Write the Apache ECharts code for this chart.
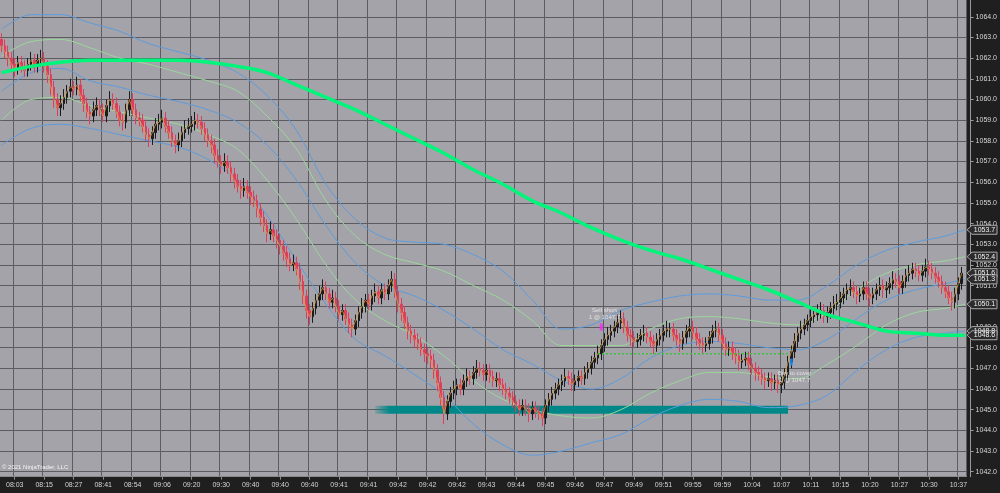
<!DOCTYPE html>
<html><head><meta charset="utf-8">
<script src="https://cdn.jsdelivr.net/npm/echarts@6/dist/echarts.min.js"></script>
<style>html,body{margin:0;padding:0;background:#1f1f1f;overflow:hidden}#c{width:1000px;height:493px}</style>
</head><body><div id="c"></div>
<script>
const timeLabels = ["08:03","08:15","08:27","08:41","08:54","09:06","09:20","09:30","09:40","09:40","09:40","09:41","09:41","09:42","09:42","09:42","09:43","09:44","09:45","09:46","09:47","09:49","09:51","09:55","09:59","10:04","10:07","10:11","10:15","10:20","10:27","10:30","10:37"];

const opens = [
1062.9,1062.6,1062.3,1062.0,1061.7,1061.5,1061.8,1061.6,1061.4,
1061.7,1061.9,1061.6,1061.9,1062.0,1061.6,1061.2,1060.6,1060.0,
1059.6,1059.8,1060.1,1060.4,1060.6,1060.5,1060.7,1060.2,1059.8,
1059.4,1059.2,1059.5,1059.7,1059.5,1059.2,1059.7,1060.0,1059.8,
1059.4,1059.0,1058.9,1059.5,1060.0,1059.5,1059.1,1059.0,1058.7,
1058.3,1058.1,1058.4,1058.8,1058.9,1059.1,1058.7,1058.4,1058.0,
1057.8,1058.0,1058.4,1058.6,1058.7,1058.8,1059.0,1058.9,1058.6,
1058.3,1058.0,1057.8,1057.3,1057.0,1056.8,1057.0,1056.7,1056.4,
1056.1,1055.8,1055.6,1055.8,1055.5,1055.3,1055.1,1054.7,1054.3,
1053.9,1053.5,1053.7,1053.4,1053.2,1052.9,1052.6,1052.3,1052.0,
1052.1,1051.8,1051.2,1050.5,1049.8,1049.5,1049.9,1050.3,1050.6,
1050.9,1050.6,1050.2,1050.4,1050.0,1049.6,1049.8,1049.4,1049.1,
1048.9,1049.3,1049.7,1050.0,1050.3,1050.1,1050.5,1050.7,1050.4,
1050.8,1050.6,1051.0,1051.3,1050.7,1050.1,1049.7,1049.2,1048.8,
1048.6,1048.4,1048.2,1047.9,1047.7,1047.6,1047.4,1046.9,1046.3,
1045.6,1044.8,1045.4,1045.8,1046.0,1046.2,1046.0,1046.4,1046.6,
1046.5,1046.8,1047.0,1046.9,1046.7,1046.9,1046.6,1046.4,1046.5,
1046.2,1046.0,1045.8,1045.6,1045.4,1045.2,1045.0,1045.2,1045.0,
1044.8,1045.1,1044.9,1044.8,1044.6,1045.2,1045.5,1045.8,1046.0,
1046.2,1046.4,1046.6,1046.5,1046.2,1046.4,1046.6,1046.5,1046.8,
1047.0,1047.3,1047.5,1047.7,1048.1,1048.4,1048.6,1048.8,1049.0,
1049.2,1049.4,1049.0,1048.6,1048.5,1048.3,1048.4,1048.6,1048.7,
1048.5,1048.3,1048.1,1048.4,1048.6,1048.8,1048.9,1048.9,1048.6,
1048.4,1048.2,1048.5,1048.8,1049.0,1048.7,1048.4,1048.2,1048.1,
1048.2,1048.5,1048.8,1048.9,1048.6,1048.2,1047.9,1048.0,1047.7,
1047.6,1047.3,1047.4,1047.5,1047.2,1047.0,1046.8,1046.7,1046.5,
1046.4,1046.5,1046.3,1046.4,1046.2,1046.3,1046.7,1047.3,1047.8,
1048.3,1048.7,1048.9,1049.1,1049.3,1049.5,1049.6,1049.7,1049.8,
1049.5,1049.7,1049.9,1050.1,1050.2,1050.4,1050.6,1050.8,1050.9,
1050.7,1050.5,1050.6,1050.9,1050.6,1050.4,1050.6,1050.8,1051.0,
1050.8,1050.9,1051.1,1051.3,1051.2,1050.9,1051.2,1051.5,1051.6,
1051.8,1051.7,1051.5,1051.7,1051.9,1051.8,1051.6,1051.4,1051.2,
1050.9,1050.7,1050.4,1050.2,1050.6,1051.1
];
const closes = [
1062.6,1062.3,1062.0,1061.7,1061.5,1061.8,1061.6,1061.4,1061.7,
1061.9,1061.6,1061.9,1062.0,1061.6,1061.2,1060.6,1060.0,1059.6,
1059.8,1060.1,1060.4,1060.6,1060.5,1060.7,1060.2,1059.8,1059.4,
1059.2,1059.5,1059.7,1059.5,1059.2,1059.7,1060.0,1059.8,1059.4,
1059.0,1058.9,1059.5,1060.0,1059.5,1059.1,1059.0,1058.7,1058.3,
1058.1,1058.4,1058.8,1058.9,1059.1,1058.7,1058.4,1058.0,1057.8,
1058.0,1058.4,1058.6,1058.7,1058.8,1059.0,1058.9,1058.6,1058.3,
1058.0,1057.8,1057.3,1057.0,1056.8,1057.0,1056.7,1056.4,1056.1,
1055.8,1055.6,1055.8,1055.5,1055.3,1055.1,1054.7,1054.3,1053.9,
1053.5,1053.7,1053.4,1053.2,1052.9,1052.6,1052.3,1052.0,1052.1,
1051.8,1051.2,1050.5,1049.8,1049.5,1049.9,1050.3,1050.6,1050.9,
1050.6,1050.2,1050.4,1050.0,1049.6,1049.8,1049.4,1049.1,1048.9,
1049.3,1049.7,1050.0,1050.3,1050.1,1050.5,1050.7,1050.4,1050.8,
1050.6,1051.0,1051.3,1050.7,1050.1,1049.7,1049.2,1048.8,1048.6,
1048.4,1048.2,1047.9,1047.7,1047.6,1047.4,1046.9,1046.3,1045.6,
1044.8,1045.4,1045.8,1046.0,1046.2,1046.0,1046.4,1046.6,1046.5,
1046.8,1047.0,1046.9,1046.7,1046.9,1046.6,1046.4,1046.5,1046.2,
1046.0,1045.8,1045.6,1045.4,1045.2,1045.0,1045.2,1045.0,1044.8,
1045.1,1044.9,1044.8,1044.6,1045.2,1045.5,1045.8,1046.0,1046.2,
1046.4,1046.6,1046.5,1046.2,1046.4,1046.6,1046.5,1046.8,1047.0,
1047.3,1047.5,1047.7,1048.1,1048.4,1048.6,1048.8,1049.0,1049.2,
1049.4,1049.0,1048.6,1048.5,1048.3,1048.4,1048.6,1048.7,1048.5,
1048.3,1048.1,1048.4,1048.6,1048.8,1048.9,1048.9,1048.6,1048.4,
1048.2,1048.5,1048.8,1049.0,1048.7,1048.4,1048.2,1048.1,1048.2,
1048.5,1048.8,1048.9,1048.6,1048.2,1047.9,1048.0,1047.7,1047.6,
1047.3,1047.4,1047.5,1047.2,1047.0,1046.8,1046.7,1046.5,1046.4,
1046.5,1046.3,1046.4,1046.2,1046.3,1046.7,1047.3,1047.8,1048.3,
1048.7,1048.9,1049.1,1049.3,1049.5,1049.6,1049.7,1049.8,1049.5,
1049.7,1049.9,1050.1,1050.2,1050.4,1050.6,1050.8,1050.9,1050.7,
1050.5,1050.6,1050.9,1050.6,1050.4,1050.6,1050.8,1051.0,1050.8,
1050.9,1051.1,1051.3,1051.2,1050.9,1051.2,1051.5,1051.6,1051.8,
1051.7,1051.5,1051.7,1051.9,1051.8,1051.6,1051.4,1051.2,1050.9,
1050.7,1050.4,1050.2,1050.6,1051.1,1051.6
];
const highs = [
1063.2,1062.9,1062.6,1062.3,1062.0,1062.1,1062.1,1061.9,1062.0,
1062.3,1062.2,1062.2,1062.4,1062.3,1061.9,1061.5,1060.9,1060.3,
1060.2,1060.5,1060.7,1061.0,1060.9,1061.1,1061.0,1060.5,1060.1,
1059.7,1059.9,1060.1,1060.0,1059.8,1060.0,1060.4,1060.3,1060.1,
1059.7,1059.3,1059.8,1060.4,1060.3,1059.8,1059.4,1059.3,1059.0,
1058.6,1058.7,1059.1,1059.3,1059.5,1059.4,1059.0,1058.7,1058.3,
1058.4,1058.7,1059.0,1059.1,1059.2,1059.4,1059.3,1059.2,1058.9,
1058.6,1058.3,1058.1,1057.6,1057.3,1057.4,1057.3,1057.0,1056.7,
1056.4,1056.1,1056.2,1056.1,1055.8,1055.6,1055.4,1055.0,1054.6,
1054.2,1054.1,1054.0,1053.7,1053.5,1053.2,1052.9,1052.6,1052.5,
1052.4,1052.1,1051.5,1050.8,1050.1,1050.2,1050.6,1051.0,1051.3,
1051.2,1050.9,1050.8,1050.7,1050.3,1050.1,1050.1,1049.7,1049.4,
1049.6,1050.0,1050.4,1050.6,1050.6,1050.8,1051.1,1051.0,1051.1,
1051.1,1051.3,1051.7,1051.6,1051.0,1050.4,1050.0,1049.5,1049.1,
1048.9,1048.7,1048.5,1048.2,1048.0,1047.9,1047.7,1047.2,1046.6,
1045.9,1045.7,1046.1,1046.4,1046.5,1046.5,1046.7,1047.0,1046.9,
1047.1,1047.4,1047.3,1047.2,1047.2,1047.2,1046.9,1046.8,1046.8,
1046.5,1046.3,1046.1,1045.9,1045.7,1045.5,1045.5,1045.5,1045.3,
1045.4,1045.4,1045.2,1045.1,1045.5,1045.8,1046.1,1046.3,1046.5,
1046.7,1047.0,1046.9,1046.8,1046.7,1046.9,1046.9,1047.1,1047.3,
1047.6,1047.8,1048.1,1048.4,1048.7,1049.0,1049.1,1049.3,1049.6,
1049.8,1049.7,1049.3,1048.9,1048.8,1048.7,1048.9,1049.1,1049.0,
1048.8,1048.6,1048.7,1048.9,1049.1,1049.3,1049.2,1049.2,1048.9,
1048.7,1048.8,1049.1,1049.4,1049.3,1049.0,1048.7,1048.5,1048.5,
1048.8,1049.1,1049.3,1049.2,1048.9,1048.5,1048.3,1048.3,1048.0,
1047.9,1047.7,1047.8,1047.8,1047.5,1047.3,1047.1,1047.0,1046.8,
1046.8,1046.8,1046.7,1046.7,1046.6,1047.0,1047.6,1048.1,1048.7,
1049.0,1049.3,1049.4,1049.6,1049.9,1049.9,1050.1,1050.2,1050.1,
1050.0,1050.2,1050.5,1050.6,1050.7,1050.9,1051.1,1051.3,1051.2,
1051.0,1050.9,1051.2,1051.2,1050.9,1050.9,1051.1,1051.4,1051.3,
1051.2,1051.4,1051.7,1051.6,1051.5,1051.5,1051.8,1052.0,1052.1,
1052.1,1052.0,1052.0,1052.3,1052.2,1052.1,1051.9,1051.7,1051.5,
1051.2,1051.0,1050.7,1050.9,1051.4,1051.9
];
const lows = [
1062.3,1062.0,1061.6,1061.4,1061.1,1061.2,1061.3,1061.1,1061.1,
1061.4,1061.3,1061.3,1061.6,1061.3,1060.8,1060.2,1059.6,1059.2,
1059.2,1059.5,1059.8,1060.1,1060.2,1060.2,1059.9,1059.4,1059.1,
1058.8,1058.9,1059.2,1059.2,1058.9,1058.9,1059.4,1059.5,1059.1,
1058.7,1058.5,1058.6,1059.2,1059.2,1058.8,1058.7,1058.4,1058.0,
1057.7,1057.8,1058.1,1058.5,1058.6,1058.4,1058.1,1057.7,1057.4,
1057.5,1057.7,1058.1,1058.3,1058.4,1058.5,1058.6,1058.3,1058.0,
1057.7,1057.4,1056.9,1056.7,1056.4,1056.5,1056.4,1056.0,1055.7,
1055.5,1055.2,1055.3,1055.2,1054.9,1054.8,1054.3,1053.9,1053.6,
1053.1,1053.2,1053.1,1052.8,1052.5,1052.2,1051.9,1051.7,1051.7,
1051.5,1050.8,1050.1,1049.4,1049.1,1049.2,1049.6,1050.0,1050.3,
1050.3,1049.9,1049.9,1049.7,1049.3,1049.3,1049.1,1048.7,1048.5,
1048.6,1049.0,1049.4,1049.7,1049.8,1049.8,1050.2,1050.1,1050.1,
1050.3,1050.3,1050.7,1050.4,1049.7,1049.3,1048.9,1048.4,1048.2,
1048.0,1047.9,1047.6,1047.3,1047.2,1047.0,1046.5,1045.9,1045.2,
1044.3,1044.5,1045.1,1045.5,1045.7,1045.7,1045.7,1046.1,1046.2,
1046.2,1046.5,1046.6,1046.4,1046.4,1046.3,1046.1,1046.1,1045.9,
1045.7,1045.5,1045.3,1045.1,1044.9,1044.7,1044.7,1044.7,1044.4,
1044.5,1044.6,1044.5,1044.2,1044.3,1044.9,1045.2,1045.5,1045.7,
1045.9,1046.1,1046.2,1045.9,1045.9,1046.1,1046.2,1046.2,1046.5,
1046.7,1047.0,1047.2,1047.4,1047.8,1048.1,1048.3,1048.5,1048.7,
1048.9,1048.7,1048.3,1048.1,1048.0,1048.0,1048.1,1048.3,1048.2,
1048.0,1047.7,1047.8,1048.1,1048.3,1048.5,1048.5,1048.3,1048.1,
1047.8,1047.9,1048.2,1048.5,1048.4,1048.1,1047.9,1047.7,1047.8,
1047.9,1048.2,1048.5,1048.3,1047.9,1047.6,1047.6,1047.4,1047.2,
1046.9,1047.0,1047.1,1046.9,1046.7,1046.4,1046.4,1046.2,1046.0,
1046.1,1045.9,1046.0,1045.8,1045.8,1046.0,1046.4,1047.0,1047.5,
1048.0,1048.4,1048.6,1048.8,1049.0,1049.2,1049.3,1049.4,1049.2,
1049.2,1049.4,1049.6,1049.8,1049.9,1050.1,1050.3,1050.5,1050.4,
1050.1,1050.2,1050.3,1050.3,1050.0,1050.1,1050.3,1050.5,1050.4,
1050.4,1050.6,1050.8,1050.9,1050.6,1050.6,1050.9,1051.2,1051.3,
1051.4,1051.2,1051.2,1051.4,1051.5,1051.3,1051.1,1050.9,1050.6,
1050.4,1050.1,1049.8,1049.9,1050.3,1050.8
];

// indicator samples (bar index -> value)
const bandIdx = [0,9,18,27,36,45,54,63,72,81,90,99,108,117,126,135,144,153,162,171,180,189,198,207,216,225,234,243,252,261,270,279,288,294];
const upperOuter = [1063.4,1064.1,1064.1,1063.7,1063.3,1062.7,1062.3,1061.9,1061.3,1060.2,1058.5,1055.9,1054.2,1053.3,1053.1,1053.0,1052.5,1051.7,1050.3,1048.9,1049.1,1049.8,1050.2,1050.5,1050.6,1050.5,1050.3,1050.3,1051.0,1052.0,1052.7,1053.1,1053.4,1053.7];
const upperInner = [1062.1,1062.8,1062.9,1062.5,1062.0,1061.7,1061.3,1060.9,1060.4,1059.2,1057.6,1055.1,1053.4,1052.5,1052.1,1051.7,1051.0,1050.3,1049.3,1048.1,1048.1,1048.1,1048.9,1049.4,1049.5,1049.4,1049.2,1049.1,1049.7,1050.8,1051.6,1052.0,1052.2,1052.4];
const middleBand = [1060.4,1061.3,1061.5,1060.9,1060.6,1060.2,1059.9,1059.5,1058.9,1057.8,1056.1,1053.9,1052.1,1051.0,1050.5,1049.8,1048.9,1047.9,1047.2,1046.4,1046.0,1046.5,1047.5,1048.1,1048.3,1048.2,1048.0,1047.9,1048.4,1049.4,1050.3,1050.8,1051.1,1051.3];
const lowerInner = [1059.0,1060.0,1060.1,1059.7,1059.4,1059.1,1058.8,1058.3,1057.6,1056.1,1054.2,1052.0,1050.3,1049.3,1048.6,1047.6,1046.4,1045.5,1045.0,1044.7,1044.6,1045.0,1045.8,1046.4,1046.8,1046.8,1046.6,1046.5,1047.2,1048.1,1049.1,1049.7,1049.9,1050.1];
const lowerOuter = [1057.8,1058.6,1058.8,1058.6,1058.3,1058.0,1057.7,1057.1,1056.1,1054.4,1052.2,1050.1,1048.4,1047.6,1046.7,1045.7,1044.3,1043.3,1042.8,1043.0,1043.4,1043.8,1044.6,1045.2,1045.5,1045.4,1045.1,1045.2,1045.7,1046.9,1047.9,1048.5,1048.7,1048.8];
const slowAverage = [1061.3,1061.6,1061.8,1061.9,1061.9,1061.9,1061.9,1061.8,1061.6,1061.3,1060.7,1060.1,1059.5,1058.8,1058.1,1057.4,1056.6,1055.9,1055.1,1054.5,1053.8,1053.2,1052.7,1052.3,1051.8,1051.3,1050.8,1050.2,1049.6,1049.2,1048.8,1048.7,1048.6,1048.6];

const yTicks = [1042,1043,1044,1045,1046,1047,1048,1049,1050,1051,1052,1053,1054,1055,1056,1057,1058,1059,1060,1061,1062,1063,1064];
const priceTags = [1053.7,1052.4,1051.6,1051.3,1050.1,1048.8,1048.6];

const entryBar = 182, exitBar = 240, tradePrice = 1047.7;
const zoneStart = 114, zoneEnd = 240, zonePrice = 1045.0;
const notes = [
  {bar:184, price:1049.65, text:'Sell short\n1 @ 1047.7'},
  {bar:242, price:1046.6, text:'Buy to cover\n1 @ 1047.7'}
];
const markers = [
  {bar:183, price:1049.0, color:'#ff22ff'},
  {bar:241, price:1047.3, color:'#1e90ff'}
];

const N = 295;
const cats = Array.from({length:N}, (_, i) => String(i));
const FIRST = 4, STEP = 9;
const isLbl = (i) => i >= FIRST && (i - FIRST) % STEP === 0;

const pairs = (vals) => vals.map((v, k) => [bandIdx[k], v]);
const candleData = closes.map((c, i) => [opens[i], c, lows[i], highs[i]]);

const chart = echarts.init(document.getElementById('c'), null, {renderer:'canvas'});
const FONT = 'Liberation Sans';
const lineS = (name, vals, color, width, z) => ({
  name, type:'line', data: pairs(vals), smooth:0.35, symbol:'none', z,
  lineStyle:{color, width}, silent:true, animation:false
});

chart.setOption({
  backgroundColor:'#1f1f1f',
  animation:false,
  grid:{left:-1.5, right:33.3, top:0, bottom:16.3, show:true, backgroundColor:'#a4a3a9', borderWidth:0},
  xAxis:{
    type:'category', data:cats, boundaryGap:true,
    axisLine:{show:true, lineStyle:{color:'#8a8a8a'}},
    axisTick:{show:true, interval:isLbl, alignWithLabel:true, length:3, lineStyle:{color:'#8a8a8a'}},
    axisLabel:{interval:isLbl, formatter:(v, i) => timeLabels[(Number(v) - FIRST) / STEP] || '', color:'#d4d4d4', fontSize:7, fontFamily:FONT, margin:5},
    splitLine:{show:true, interval:isLbl, lineStyle:{color:'#5d5d61', width:1}}
  },
  yAxis:{
    type:'value', position:'right', offset:4, min:1041.76, max:1064.81,
    axisLine:{show:true, lineStyle:{color:'#9a9a9a'}},
    axisTick:{show:true, length:3, customValues:yTicks, lineStyle:{color:'#9a9a9a'}},
    axisLabel:{customValues:yTicks, formatter:(v) => Number(v).toFixed(1), color:'#d8d8d8', fontSize:7, fontFamily:FONT, margin:5},
    splitLine:{show:true, lineStyle:{color:'#5d5d61', width:1}}
  },
  series:[
    {type:'line', name:'zone', data:[[zoneStart, zonePrice],[zoneEnd, zonePrice]], symbol:'none', z:2, silent:true,
      lineStyle:{width:8, cap:'butt', color:new echarts.graphic.LinearGradient(0,0,1,0,[{offset:0,color:'rgba(0,134,134,0)'},{offset:0.045,color:'#008888'},{offset:1,color:'#008888'}])}},
    lineS('lowerOuter', lowerOuter, '#5d9bdc', 1, 3),
    lineS('upperOuter', upperOuter, '#5d9bdc', 1, 3),
    lineS('middle', middleBand, '#5d9bdc', 1, 3),
    lineS('upperInner', upperInner, '#9bd79b', 1, 3),
    lineS('lowerInner', lowerInner, '#9bd79b', 1, 3),
    {type:'candlestick', name:'bars', data:candleData, barWidth:2, z:4,
      itemStyle:{color:'#1c1c1c', color0:'#e23c5c', borderColor:'#1c1c1c', borderColor0:'#e23c5c', borderWidth:1}},
    {type:'line', name:'fast', data:closes, symbol:'none', z:5, silent:true, lineStyle:{color:'#d99a3c', width:0.8}},
    lineS('slow', slowAverage, '#00f57a', 3.5, 6),
    {type:'line', name:'position', data:[[entryBar, tradePrice],[exitBar, tradePrice]], symbol:'none', z:6, silent:true,
      lineStyle:{color:'#3cc43c', width:1.5, type:[2,2]}},
    {type:'scatter', name:'marks', z:7, silent:true,
      data: markers.map(m => ({value:[m.bar, m.price], itemStyle:{color:m.color}})),
      symbol:'rect', symbolSize:[3,7]},
    {type:'scatter', name:'notes', z:8, silent:true, symbolSize:0,
      data: notes.map(n => ({value:[n.bar, n.price], label:{show:true, formatter:n.text}})),
      label:{show:true, position:'inside', color:'#f2f2f2', fontSize:6, fontFamily:FONT, lineHeight:7, align:'center'}}
  ]
});

// price tags on the right axis
const g = [];
priceTags.forEach(v => {
  const y = chart.convertToPixel({yAxisIndex:0}, v);
  g.push({type:'polygon', z:100, shape:{points:[[967,y],[972,y-4.5],[997,y-4.5],[997,y+4.5],[972,y+4.5]]},
    style:{fill:'#2c2c2c', stroke:'#a8a8a8', lineWidth:1}});
  g.push({type:'text', z:101, x:984.5, y:y, style:{text:v.toFixed(1), fill:'#f0f0f0', font:'7px ' + FONT, align:'center', verticalAlign:'middle'}});
});
g.push({type:'text', z:101, x:2, y:467, style:{text:'\u00a9 2021 NinjaTrader, LLC', fill:'#f4f4f4', font:'6px ' + FONT, verticalAlign:'middle'}});
chart.setOption({graphic:g});
</script>
</body></html>
